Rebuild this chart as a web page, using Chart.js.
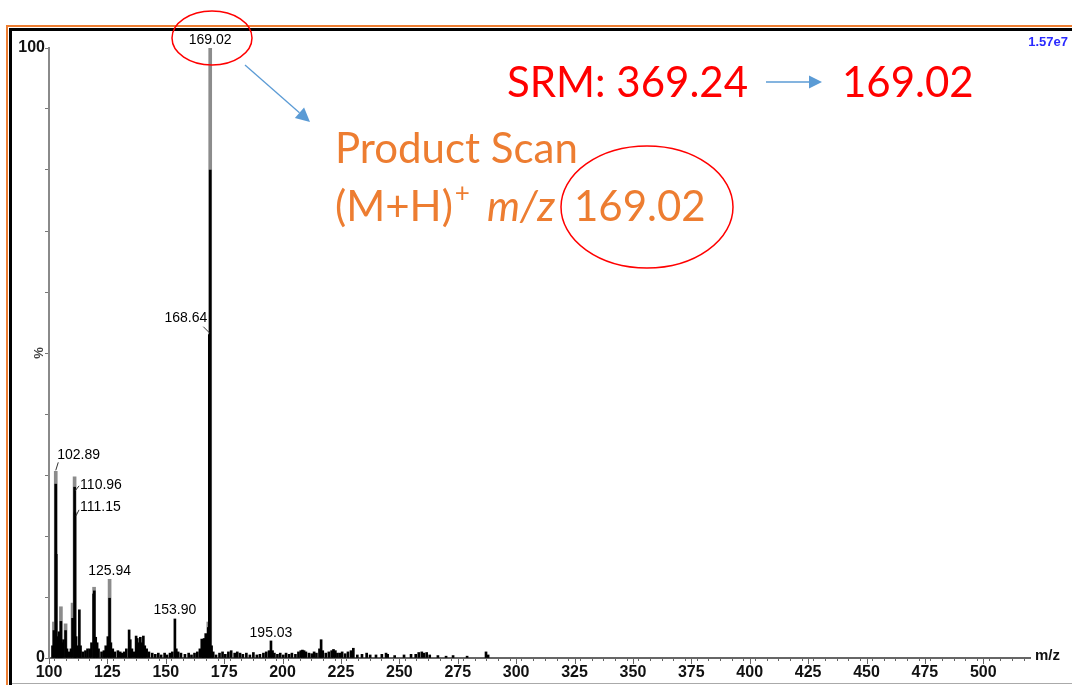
<!DOCTYPE html>
<html>
<head>
<meta charset="utf-8">
<title>Product scan 169.02</title>
<script src="https://cdn.jsdelivr.net/npm/chart.js@4.4.1/dist/chart.umd.min.js"></script>
<style>
  html, body { margin: 0; padding: 0; background: #fff; overflow: hidden; }
  canvas { display: block; }
</style>
</head>
<body>
<canvas id="spectrum" width="1072" height="685"></canvas>
<script>
// centroid sticks: m/z and relative intensity (%)
const stickMz = [101.5, 102.1, 102.89, 103.1, 103.8, 104.3, 104.8, 105.1, 105.6, 106.2, 107.1, 107.7, 108.5, 109.4,
  110.1, 110.96, 111.15, 111.6, 112.3, 113.0, 113.5, 114.5, 115.6, 116.5, 117.5, 118.2, 119.1, 119.4, 120.0, 120.6,
  121.2, 122.5, 123.5, 124.3, 125.2, 125.94, 126.5, 127.3, 128.2, 129.5, 130.5, 131.3, 132.2, 133.1, 134.3, 134.8,
  135.5, 136.5, 137.3, 137.8, 138.5, 139.1, 139.7, 140.4, 141.0, 141.8, 142.8, 144.2, 145.5, 146.8, 148.0, 149.5,
  150.5, 151.8, 152.8, 153.90, 154.5, 155.3, 156.5, 158.2, 159.8, 161.0, 162.3, 163.5, 164.6, 165.4, 165.9, 166.4,
  167.1, 167.6, 168.2, 168.64, 169.02, 169.6, 170.3, 171.5, 173.0, 174.3, 175.5, 176.8, 178.0, 179.5, 180.6, 181.8,
  183.0, 184.5, 186.0, 187.5, 189.0, 190.3, 191.8, 193.0, 194.2, 195.03, 195.7, 196.5, 197.8, 199.0, 200.3, 201.5,
  202.8, 204.0, 205.5, 206.8, 207.8, 208.5, 209.2, 210.0, 211.3, 212.5, 213.5, 214.5, 215.8, 216.5, 217.2, 218.5,
  219.8, 221.0, 221.8, 222.6, 223.5, 224.5, 225.5, 226.8, 228.0, 229.3, 230.3, 232.0, 234.0, 236.0, 237.5, 240.0,
  242.5, 244.3, 245.0, 248.0, 252.0, 255.0, 257.0, 258.3, 259.6, 260.5, 261.7, 263.0, 266.5, 270.0, 273.0, 279.0,
  287.1, 288.0];
const stickInt = [2.0, 4.5, 28.5, 17, 3.5, 4.3, 2.5, 6.0, 2.5, 3.0, 4.5, 1.5, 1.0, 1.5,
  6.5, 28.0, 23.8, 3.5, 2.0, 7.9, 2.0, 1.0, 1.2, 1.5, 1.5, 2.5, 10.5, 11.0, 3.4, 2.5,
  1.5, 1.0, 1.2, 2.0, 3.5, 9.8, 2.5, 1.5, 1.0, 1.2, 1.0, 0.8, 1.0, 1.5, 4.6, 3.0,
  1.5, 1.0, 3.6, 3.2, 2.5, 3.4, 2.5, 3.6, 2.0, 1.5, 1.0, 0.8, 0.6, 0.8, 0.5, 0.8,
  0.5, 0.8, 1.0, 6.4, 1.5, 1.0, 0.8, 0.6, 0.8, 0.5, 0.8, 1.0, 1.5, 3.1, 2.5, 3.2,
  4.0, 3.0, 5.0, 53, 80, 2.0, 1.0, 0.5, 0.8, 1.0, 0.6, 1.0, 1.2, 0.8, 1.0, 0.8,
  0.6, 0.8, 0.5, 0.9, 0.5, 0.6, 0.8, 1.0, 1.2, 2.8, 1.2, 0.8, 0.6, 0.8, 0.5, 0.8,
  0.6, 0.8, 0.6, 1.0, 1.2, 1.3, 1.2, 1.0, 0.8, 0.7, 1.0, 0.8, 1.5, 3.0, 1.2, 0.8,
  1.0, 1.2, 1.4, 1.2, 0.8, 0.8, 1.0, 0.7, 1.0, 1.2, 1.6, 0.5, 0.6, 0.8, 0.5, 0.5,
  0.6, 0.8, 0.6, 0.4, 0.5, 0.6, 0.6, 0.9, 1.0, 0.8, 0.9, 0.5, 0.4, 0.3, 0.4, 0.3,
  1.0, 0.5];

// profile tops (grey trace behind the sticks)
const profileMz = [102.1, 102.89, 105.1, 107.1, 110.1, 110.96, 119.3, 125.94, 168.2, 169.02];
const profileInt = [5.9, 30.6, 8.4, 5.6, 9.0, 29.7, 11.6, 12.9, 5.9, 100];

// peaks that carry an m/z label
const labelMz = [102.89, 110.96, 111.15, 125.94, 153.90, 168.64, 169.02, 195.03];

const xMin = 100, xMax = 520, xStep = 5, xLabelStep = 25, xLabelLast = 500;
const yMin = 0, yMax = 100, yStep = 10;
const fullScale = '1.57e7';

// where each label sits relative to its peak top (px)
const labelPlace = {
  '102.89': { dx: 1.5, dy: -16, align: 'left', lead: [0, -1, 2.5, -9] },
  '110.96': { dx: 5.5, dy: 8, align: 'left', lead: [0.5, 14, 4.5, 9] },
  '111.15': { dx: 5, dy: -6, align: 'left', lead: [1, 3, 4, -3] },
  '125.94': { dx: 0, dy: -8, align: 'center' },
  '153.90': { dx: 0, dy: -9, align: 'center' },
  '168.64': { dx: -2, dy: -17, align: 'right', lead: [-6, -8, 0, -2] },
  '169.02': { dx: 0, dy: -8, align: 'center' },
  '195.03': { dx: 0, dy: -8, align: 'center' }
};

function peakTop(m) {
  let top = 0;
  stickMz.forEach((v, i) => { if (Math.abs(v - m) < 0.001) top = Math.max(top, stickInt[i]); });
  profileMz.forEach((v, i) => { if (Math.abs(v - m) < 0.001) top = Math.max(top, profileInt[i]); });
  return top;
}

const tickFont = { family: '"Liberation Sans", Arial, sans-serif', size: 16, weight: 'bold' };

const frame = {
  id: 'frame',
  beforeDraw(chart) {
    const ctx = chart.ctx;
    ctx.save();
    ctx.fillStyle = '#fff';
    ctx.fillRect(0, 0, chart.width, chart.height);
    ctx.fillStyle = '#ed7d31';
    ctx.fillRect(7, 25, chart.width - 7, 2);
    ctx.fillRect(6, 25, 2, chart.height - 25);
    ctx.fillStyle = '#000';
    ctx.fillRect(9, 28, chart.width - 9, 3);
    ctx.fillRect(9, 28, 3, chart.height - 28);
    ctx.fillStyle = '#aaa';
    ctx.fillRect(12, 683, chart.width - 12, 1);
    ctx.restore();
  }
};

const peakLabels = {
  id: 'peakLabels',
  afterDatasetsDraw(chart) {
    const { ctx, scales: { x, y } } = chart;
    ctx.save();
    ctx.font = '14px "Liberation Sans", Arial, sans-serif';
    ctx.fillStyle = '#000';
    ctx.strokeStyle = '#333';
    ctx.lineWidth = 1;
    ctx.textBaseline = 'middle';
    labelMz.forEach(m => {
      const key = m.toFixed(2);
      const p = labelPlace[key];
      const px = x.getPixelForValue(m);
      const py = y.getPixelForValue(peakTop(m));
      ctx.textAlign = p.align;
      ctx.fillText(key, px + p.dx, py + p.dy);
      if (p.lead) {
        ctx.beginPath();
        ctx.moveTo(px + p.lead[0], py + p.lead[1]);
        ctx.lineTo(px + p.lead[2], py + p.lead[3]);
        ctx.stroke();
      }
    });
    ctx.restore();
  }
};

function arrow(ctx, x0, y0, x1, y1, head) {
  const a = Math.atan2(y1 - y0, x1 - x0);
  ctx.beginPath();
  ctx.moveTo(x0, y0);
  ctx.lineTo(x1 - head * Math.cos(a), y1 - head * Math.sin(a));
  ctx.stroke();
  ctx.beginPath();
  ctx.moveTo(x1, y1);
  ctx.lineTo(x1 - head * Math.cos(a) + head * 0.5 * Math.sin(a), y1 - head * Math.sin(a) - head * 0.5 * Math.cos(a));
  ctx.lineTo(x1 - head * Math.cos(a) - head * 0.5 * Math.sin(a), y1 - head * Math.sin(a) + head * 0.5 * Math.cos(a));
  ctx.closePath();
  ctx.fill();
}

const notes = {
  id: 'notes',
  afterDraw(chart) {
    const { ctx, scales: { x, y } } = chart;
    ctx.save();
    // longer major ticks on m/z axis
    ctx.strokeStyle = '#666';
    ctx.lineWidth = 1;
    for (let v = xMin; v <= xMax; v += xLabelStep) {
      const px = Math.round(x.getPixelForValue(v)) + 0.5;
      ctx.beginPath();
      ctx.moveTo(px, y.bottom);
      ctx.lineTo(px, y.bottom + 6);
      ctx.stroke();
    }
    ctx.fillStyle = '#111';
    ctx.font = 'bold 15px "Liberation Sans", Arial, sans-serif';
    ctx.textBaseline = 'middle';
    ctx.textAlign = 'left';
    ctx.fillText('m/z', x.right + 5, y.bottom - 2);

    ctx.save();
    ctx.translate(x.left - 10, (y.top + y.bottom) / 2);
    ctx.rotate(-Math.PI / 2);
    ctx.font = 'bold 13px "Liberation Sans", Arial, sans-serif';
    ctx.fillStyle = '#444';
    ctx.textAlign = 'center';
    ctx.fillText('%', 0, 0);
    ctx.restore();

    ctx.fillStyle = '#2a2aff';
    ctx.font = 'bold 13px "Liberation Sans", Arial, sans-serif';
    ctx.textAlign = 'right';
    ctx.fillText(fullScale, 1068, 42);

    // red ellipses
    ctx.strokeStyle = '#ff0000';
    ctx.lineWidth = 1.5;
    ctx.beginPath();
    ctx.ellipse(212, 38, 40, 27, 0, 0, Math.PI * 2);
    ctx.stroke();
    ctx.beginPath();
    ctx.ellipse(647, 207, 86, 61, 0, 0, Math.PI * 2);
    ctx.stroke();

    // blue arrows
    ctx.strokeStyle = '#5b9bd5';
    ctx.fillStyle = '#5b9bd5';
    ctx.lineWidth = 1.3;
    arrow(ctx, 245, 65, 310, 122, 14);
    arrow(ctx, 766, 82, 822, 82, 13);

    const big = '"Lato", "Noto Sans", sans-serif';
    ctx.textBaseline = 'alphabetic';
    ctx.textAlign = 'left';
    ctx.fillStyle = '#ff0000';
    ctx.font = '42px ' + big;
    ctx.fillText('SRM: 369.24', 507, 97);
    ctx.fillText('169.02', 842, 97);

    ctx.fillStyle = '#ed7d31';
    ctx.fillText('Product Scan', 335, 163);
    ctx.fillText('(M+H)', 335, 221);
    let cx = 335 + ctx.measureText('(M+H)').width + 2;
    ctx.font = '26px ' + big;
    ctx.fillText('+', cx, 202);
    ctx.font = 'italic 42px ' + big;
    ctx.fillText('m/z', 487, 221);
    ctx.font = '42px ' + big;
    ctx.fillText('169.02', 574, 221);
    ctx.restore();
  }
};

new Chart(document.getElementById('spectrum'), {
  type: 'bar',
  data: {
    datasets: [
      {
        label: 'centroid',
        data: stickMz.map((m, i) => ({ x: m, y: stickInt[i] })),
        backgroundColor: '#000',
        barThickness: 2
      },
      {
        label: 'profile',
        data: profileMz.map((m, i) => ({ x: m, y: profileInt[i] })),
        backgroundColor: '#8c8c8c',
        barThickness: 3
      }
    ]
  },
  options: {
    responsive: false,
    devicePixelRatio: 1,
    animation: false,
    events: [],
    grouped: false,
    layout: { padding: { top: 48, right: 42, left: 0, bottom: 0 } },
    plugins: { legend: { display: false }, tooltip: { enabled: false } },
    scales: {
      x: {
        type: 'linear',
        min: xMin,
        max: xMax,
        offset: false,
        afterFit: s => { s.height = 27; },
        border: { display: true, color: '#666', width: 2 },
        grid: { drawOnChartArea: false, drawTicks: true, tickLength: 3, color: '#666' },
        ticks: {
          stepSize: xStep,
          autoSkip: false,
          maxRotation: 0,
          padding: 2,
          color: '#111',
          font: tickFont,
          callback: v => (v % xLabelStep === 0 && v <= xLabelLast) ? v : ''
        }
      },
      y: {
        min: yMin,
        max: yMax,
        afterFit: s => { s.width = 49; },
        border: { display: true, color: '#8a8a8a', width: 2 },
        grid: { drawOnChartArea: false, drawTicks: true, tickLength: 4, color: '#777' },
        ticks: {
          stepSize: yStep,
          padding: 0,
          color: '#111',
          font: tickFont,
          callback: v => (v === yMin || v === yMax) ? v : ''
        }
      }
    }
  },
  plugins: [frame, peakLabels, notes]
});
</script>
</body>
</html>
